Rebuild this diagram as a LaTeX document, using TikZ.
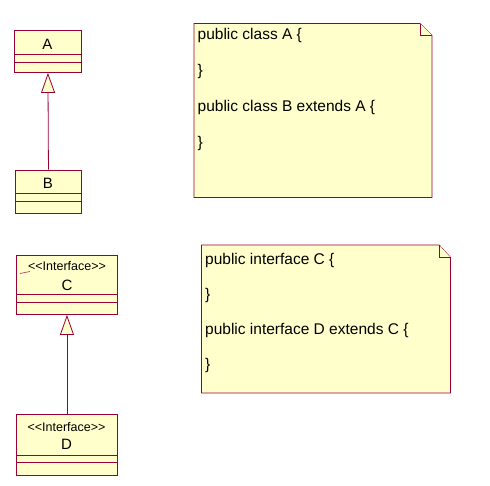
\documentclass[tikz,border=0pt]{standalone}
\usepackage{fontspec}
\setmainfont{Liberation Sans}
\usetikzlibrary{arrows.meta}
\definecolor{umlborder}{RGB}{153,0,51}
\definecolor{umlfill}{RGB}{255,255,204}
\newcommand{\stereoiface}{\mbox{<}\mbox{<}Interface\mbox{>}\mbox{>}}
\begin{document}
\begin{tikzpicture}[x=1pt,y=-1pt,
  classbox/.style={draw=umlborder, fill=umlfill, line width=0.9pt, anchor=north west, inner sep=0pt},
  divider/.style={draw=umlborder, line width=0.9pt},
  notebox/.style={draw=umlborder, fill=umlfill, line width=0.9pt},
  nametext/.style={font=\fontsize{15}{18}\selectfont, inner sep=0pt},
  stereo/.style={font=\fontsize{12.5}{14}\selectfont, inner sep=0pt},
  notetext/.style={font=\fontsize{15.5}{18}\selectfont, anchor=west, inner sep=0pt},
  generalize/.style={draw=umlborder, line width=0.8pt, -{Triangle[open, length=20pt, width=14pt, fill=umlfill]}}
]
\useasboundingbox (0,0) rectangle (490,485);
\fill[white] (0,0) rectangle (490,485);

% Class A
\node[classbox, minimum width=67pt, minimum height=42pt] (A) at (14,30) {};
\draw[divider] (14,54) -- (81,54);
\draw[divider] (14,62) -- (81,62);
\node[nametext] (Aname) at (47.5,44) {A};

% Class B
\node[classbox, minimum width=66pt, minimum height=43.5pt] (B) at (15,169.5) {};
\draw[divider] (15,193.5) -- (81,193.5);
\draw[divider] (15,201.5) -- (81,201.5);
\node[nametext] (Bname) at (48,183) {B};

\draw[generalize] (B.north) -- (A.south);

% Interface C
\node[classbox, minimum width=101pt, minimum height=59.5pt] (C) at (16,254.5) {};
\draw[divider] (16,294) -- (117,294);
\draw[divider] (16,302) -- (117,302);
\node[stereo] (Cst) at (67,266.5) {\stereoiface};
\node[nametext] (Cname) at (67,285) {C};
\draw[umlborder!70, line width=0.7pt] (20,273.5) -- (30,271.5);

% Interface D
\node[classbox, minimum width=101pt, minimum height=61pt] (D) at (16,414) {};
\draw[divider] (16,455) -- (117,455);
\draw[divider] (16,462.5) -- (117,462.5);
\node[stereo] (Dst) at (66.5,427) {\stereoiface};
\node[nametext] (Dname) at (66.5,444.5) {D};

\draw[generalize] (D.north) -- (C.south);

% Note 1
\draw[notebox] (194,23.5) -- (420,23.5) -- (432,35.5) -- (432,197.5) -- (194,197.5) -- cycle;
\draw[notebox] (420,23.5) -- (420,35.5) -- (432,35.5);
\node[notetext] (n1a) at (197.5,35.5) {public class A \{};
\node[notetext] (n1b) at (197.5,71.5) {\}};
\node[notetext] (n1c) at (197.5,107) {public class B extends A \{};
\node[notetext] (n1d) at (197.5,143) {\}};

% Note 2
\draw[notebox] (201.5,245) -- (439,245) -- (450.5,257.5) -- (450.5,393) -- (201.5,393) -- cycle;
\draw[notebox] (439,245) -- (439,257.5) -- (450.5,257.5);
\node[notetext] (n2a) at (205,260) {public interface C \{};
\node[notetext] (n2b) at (205,295) {\}};
\node[notetext] (n2c) at (205,330) {public interface D extends C \{};
\node[notetext] (n2d) at (205,365) {\}};
\end{tikzpicture}
\end{document}
